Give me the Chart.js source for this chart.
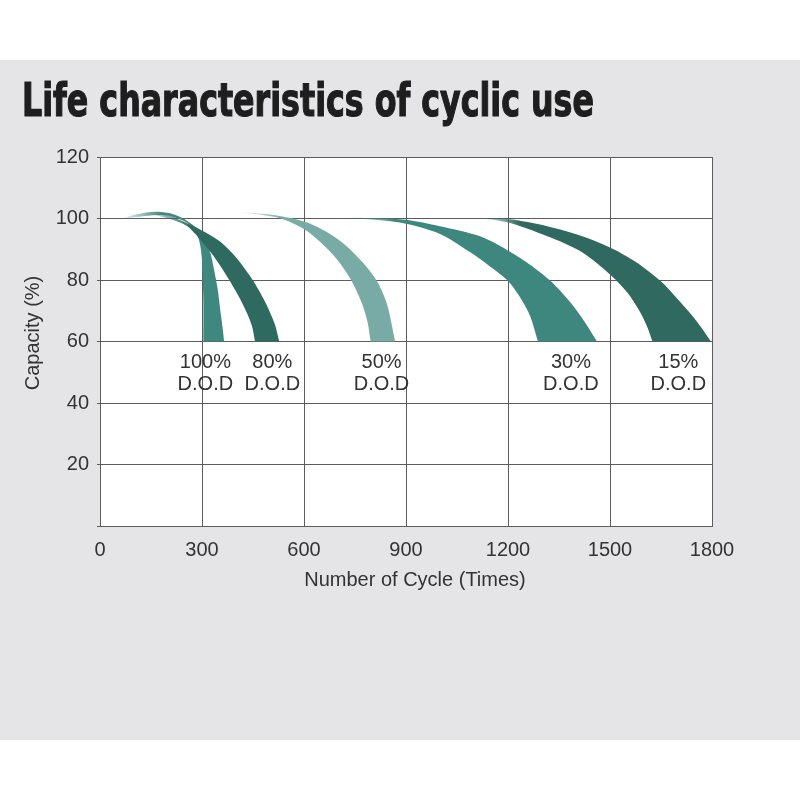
<!DOCTYPE html>
<html>
<head>
<meta charset="utf-8">
<script src="https://cdn.jsdelivr.net/npm/chart.js@4.4.1/dist/chart.umd.min.js"></script>
<style>
  html, body { margin: 0; padding: 0; background: #fff; }
  #area { width: 800px; height: 800px; }
</style>
</head>
<body>
<div id="area"><canvas id="grafico" width="800" height="800"></canvas></div>
<script>
// axis ticks
const xTicks = [0, 300, 600, 900, 1200, 1500, 1800]
const xTickLabels = ['0', '300', '600', '900', '1200', '1500', '1800']
const yTicks = [0, 20, 40, 60, 80, 100, 120]
const yTickLabels = ['', '20', '40', '60', '80', '100', '120']

// each band = upper edge + lower edge, points as [cycles, capacity %], tip first
const dod100Top = [[68, 100.1], [108, 101.4], [162, 102.2], [206, 101.7], [245, 100], [274, 97.8], [292, 95.9], [309, 93], [324, 89.1], [335, 83.6], [346, 77.1], [354, 70], [361, 64.1], [365, 60]]
const dod100Bottom = [[68, 100.1], [118, 100.6], [167, 101.1], [206, 100.8], [255, 98.7], [279, 95.9], [292, 92.7], [299, 87.7], [302, 80], [304, 73.5], [304, 60]]

const dod80Top = [[147, 101.3], [180, 101.4], [206, 100.9], [235, 99.5], [297, 96.3], [353, 92.5], [402, 87.1], [451, 79.7], [490, 71.9], [515, 65.4], [527, 60]]
const dod80Bottom = [[147, 101.3], [176, 100.7], [221, 99.3], [256, 97.6], [282, 94.8], [297, 92.8], [333, 88], [382, 79.7], [421, 71.9], [446, 65.4], [456, 60]]

const dod50Top = [[417, 102], [510, 101.1], [600, 99], [662, 95.9], [721, 91.4], [771, 85.9], [814, 79.7], [844, 72.2], [868, 60]]
const dod50Bottom = [[417, 102], [529, 100.1], [600, 96.6], [647, 92.4], [696, 86.8], [740, 79.7], [770, 72.5], [787, 66.3], [796, 60]]

const dod30Top = [[745, 100.3], [898, 99.6], [1000, 97.5], [1118, 94.2], [1206, 89.2], [1265, 85], [1324, 79.8], [1382, 72.9], [1426, 66.3], [1462, 60]]
const dod30Bottom = [[745, 100.1], [882, 98.7], [1000, 95], [1088, 89.1], [1147, 84.4], [1200, 79.7], [1235, 74.5], [1265, 68.3], [1288, 60]]

const dod15Top = [[1118, 100.1], [1200, 99.8], [1315, 97.5], [1412, 94.5], [1500, 90.6], [1574, 86], [1647, 79.8], [1706, 72.9], [1756, 66.4], [1797, 60]]
const dod15Bottom = [[1118, 100.1], [1201, 98.7], [1314, 94.3], [1412, 89.4], [1495, 82.3], [1549, 76.2], [1588, 69.7], [1609, 64.9], [1625, 60]]

// labels under the bands
const dodLabels = ['100%', '80%', '50%', '30%', '15%']
const dodLabelCycles = [310, 507, 828, 1385, 1701]

const cores = ['#3f887f', '#2f6a60', '#78aba5', '#3e877e', '#2f695f']

// outline of one band: upper edge down to the base, then lower edge back up to the tip
// corner points are doubled so the curve keeps sharp corners
function contorno(top, bottom) {
  const pts = top.map(p => ({x: p[0], y: p[1]}))
  pts.push({...pts[pts.length - 1]})
  const volta = bottom.slice().reverse().map(p => ({x: p[0], y: p[1]}))
  pts.push({...volta[0]})
  return pts.concat(volta)
}

function faixa(top, bottom, cor, ordem) {
  return {
    data: contorno(top, bottom),
    fill: 'shape',
    borderColor: 'rgba(0,0,0,0)',
    borderWidth: 0,
    pointRadius: 0,
    tension: 0.3,
    order: ordem,
    backgroundColor: function (context) {
      const chart = context.chart
      const x = chart.scales && chart.scales.x
      if (!x || !chart.chartArea) return cor
      const x0 = x.getPixelForValue(top[0][0])
      const g = chart.ctx.createLinearGradient(x0, 0, x0 + 40, 0)
      g.addColorStop(0, cor + '22')
      g.addColorStop(1, cor)
      return g
    }
  }
}

const textos = {
  id: 'textos',
  beforeDraw(chart) {
    const {ctx, chartArea: a} = chart
    ctx.save()
    ctx.fillStyle = '#ffffff'
    ctx.fillRect(0, 0, 800, 800)
    ctx.fillStyle = '#e5e5e7'
    ctx.fillRect(0, 60, 800, 680)
    ctx.fillStyle = '#ffffff'
    ctx.fillRect(a.left, a.top, a.right - a.left, a.bottom - a.top)
    ctx.restore()
  },
  afterDraw(chart) {
    const ctx = chart.ctx
    const x = chart.scales.x
    const y = chart.scales.y
    ctx.save()

    // title, squeezed to the reference width
    ctx.fillStyle = '#1e1e1e'
    ctx.strokeStyle = '#1e1e1e'
    ctx.lineWidth = 1.2
    ctx.font = "bold 46px 'Liberation Sans Narrow', 'DejaVu Sans Condensed', sans-serif"
    ctx.textBaseline = 'alphabetic'
    ctx.textAlign = 'left'
    const titulo = 'Life characteristics of cyclic use'
    const w = ctx.measureText(titulo).width
    ctx.save()
    ctx.translate(22, 116)
    ctx.scale(572 / w, 1)
    ctx.fillText(titulo, 0, 0)
    ctx.strokeText(titulo, 0, 0)
    ctx.restore()

    ctx.fillStyle = '#333'
    ctx.font = "20px 'Liberation Sans', sans-serif"
    ctx.textAlign = 'center'
    ctx.textBaseline = 'middle'
    ctx.fillText('Number of Cycle (Times)', 415, 580)

    ctx.save()
    ctx.translate(33, 333)
    ctx.rotate(-Math.PI / 2)
    ctx.fillText('Capacity (%)', 0, 0)
    ctx.restore()

    const base = y.getPixelForValue(60)
    dodLabels.forEach((t, i) => {
      const px = x.getPixelForValue(dodLabelCycles[i])
      ctx.fillText(t, px, base + 21)
      ctx.fillText('D.O.D', px, base + 43)
    })
    ctx.restore()
  }
}

Chart.defaults.font.family = "'Liberation Sans', Arial, sans-serif"
Chart.defaults.color = '#333'

const ctx = document.getElementById('grafico').getContext('2d')
const grafico = new Chart(ctx, {
  type: 'line',
  data: {
    datasets: [
      faixa(dod100Top, dod100Bottom, cores[0], 2),
      faixa(dod80Top, dod80Bottom, cores[1], 1),
      faixa(dod50Top, dod50Bottom, cores[2], 1),
      faixa(dod30Top, dod30Bottom, cores[3], 1),
      faixa(dod15Top, dod15Bottom, cores[4], 1)
    ]
  },
  options: {
    responsive: false,
    animation: false,
    events: [],
    layout: { padding: { top: 157, right: 88, left: 0, bottom: 214 } },
    plugins: {
      legend: { display: false },
      tooltip: { enabled: false }
    },
    scales: {
      x: {
        type: 'linear',
        min: 0,
        max: 1800,
        afterBuildTicks: axis => { axis.ticks = xTicks.map(v => ({value: v})) },
        afterFit: axis => { axis.height = 60 },
        ticks: {
          font: { size: 20 },
          color: '#333',
          padding: 12,
          maxRotation: 0,
          callback: (v, i) => xTickLabels[i]
        },
        grid: { color: '#5c5c5c', lineWidth: 1, drawTicks: false },
        border: { color: '#5c5c5c' }
      },
      y: {
        type: 'linear',
        min: 0,
        max: 120,
        afterBuildTicks: axis => { axis.ticks = yTicks.map(v => ({value: v})) },
        afterFit: axis => { axis.width = 100 },
        ticks: {
          font: { size: 20 },
          color: '#333',
          padding: 8,
          callback: (v, i) => yTickLabels[i]
        },
        grid: { color: '#5c5c5c', lineWidth: 1, tickLength: 3 },
        border: { color: '#5c5c5c' }
      }
    }
  },
  plugins: [textos]
})
</script>
</body>
</html>
